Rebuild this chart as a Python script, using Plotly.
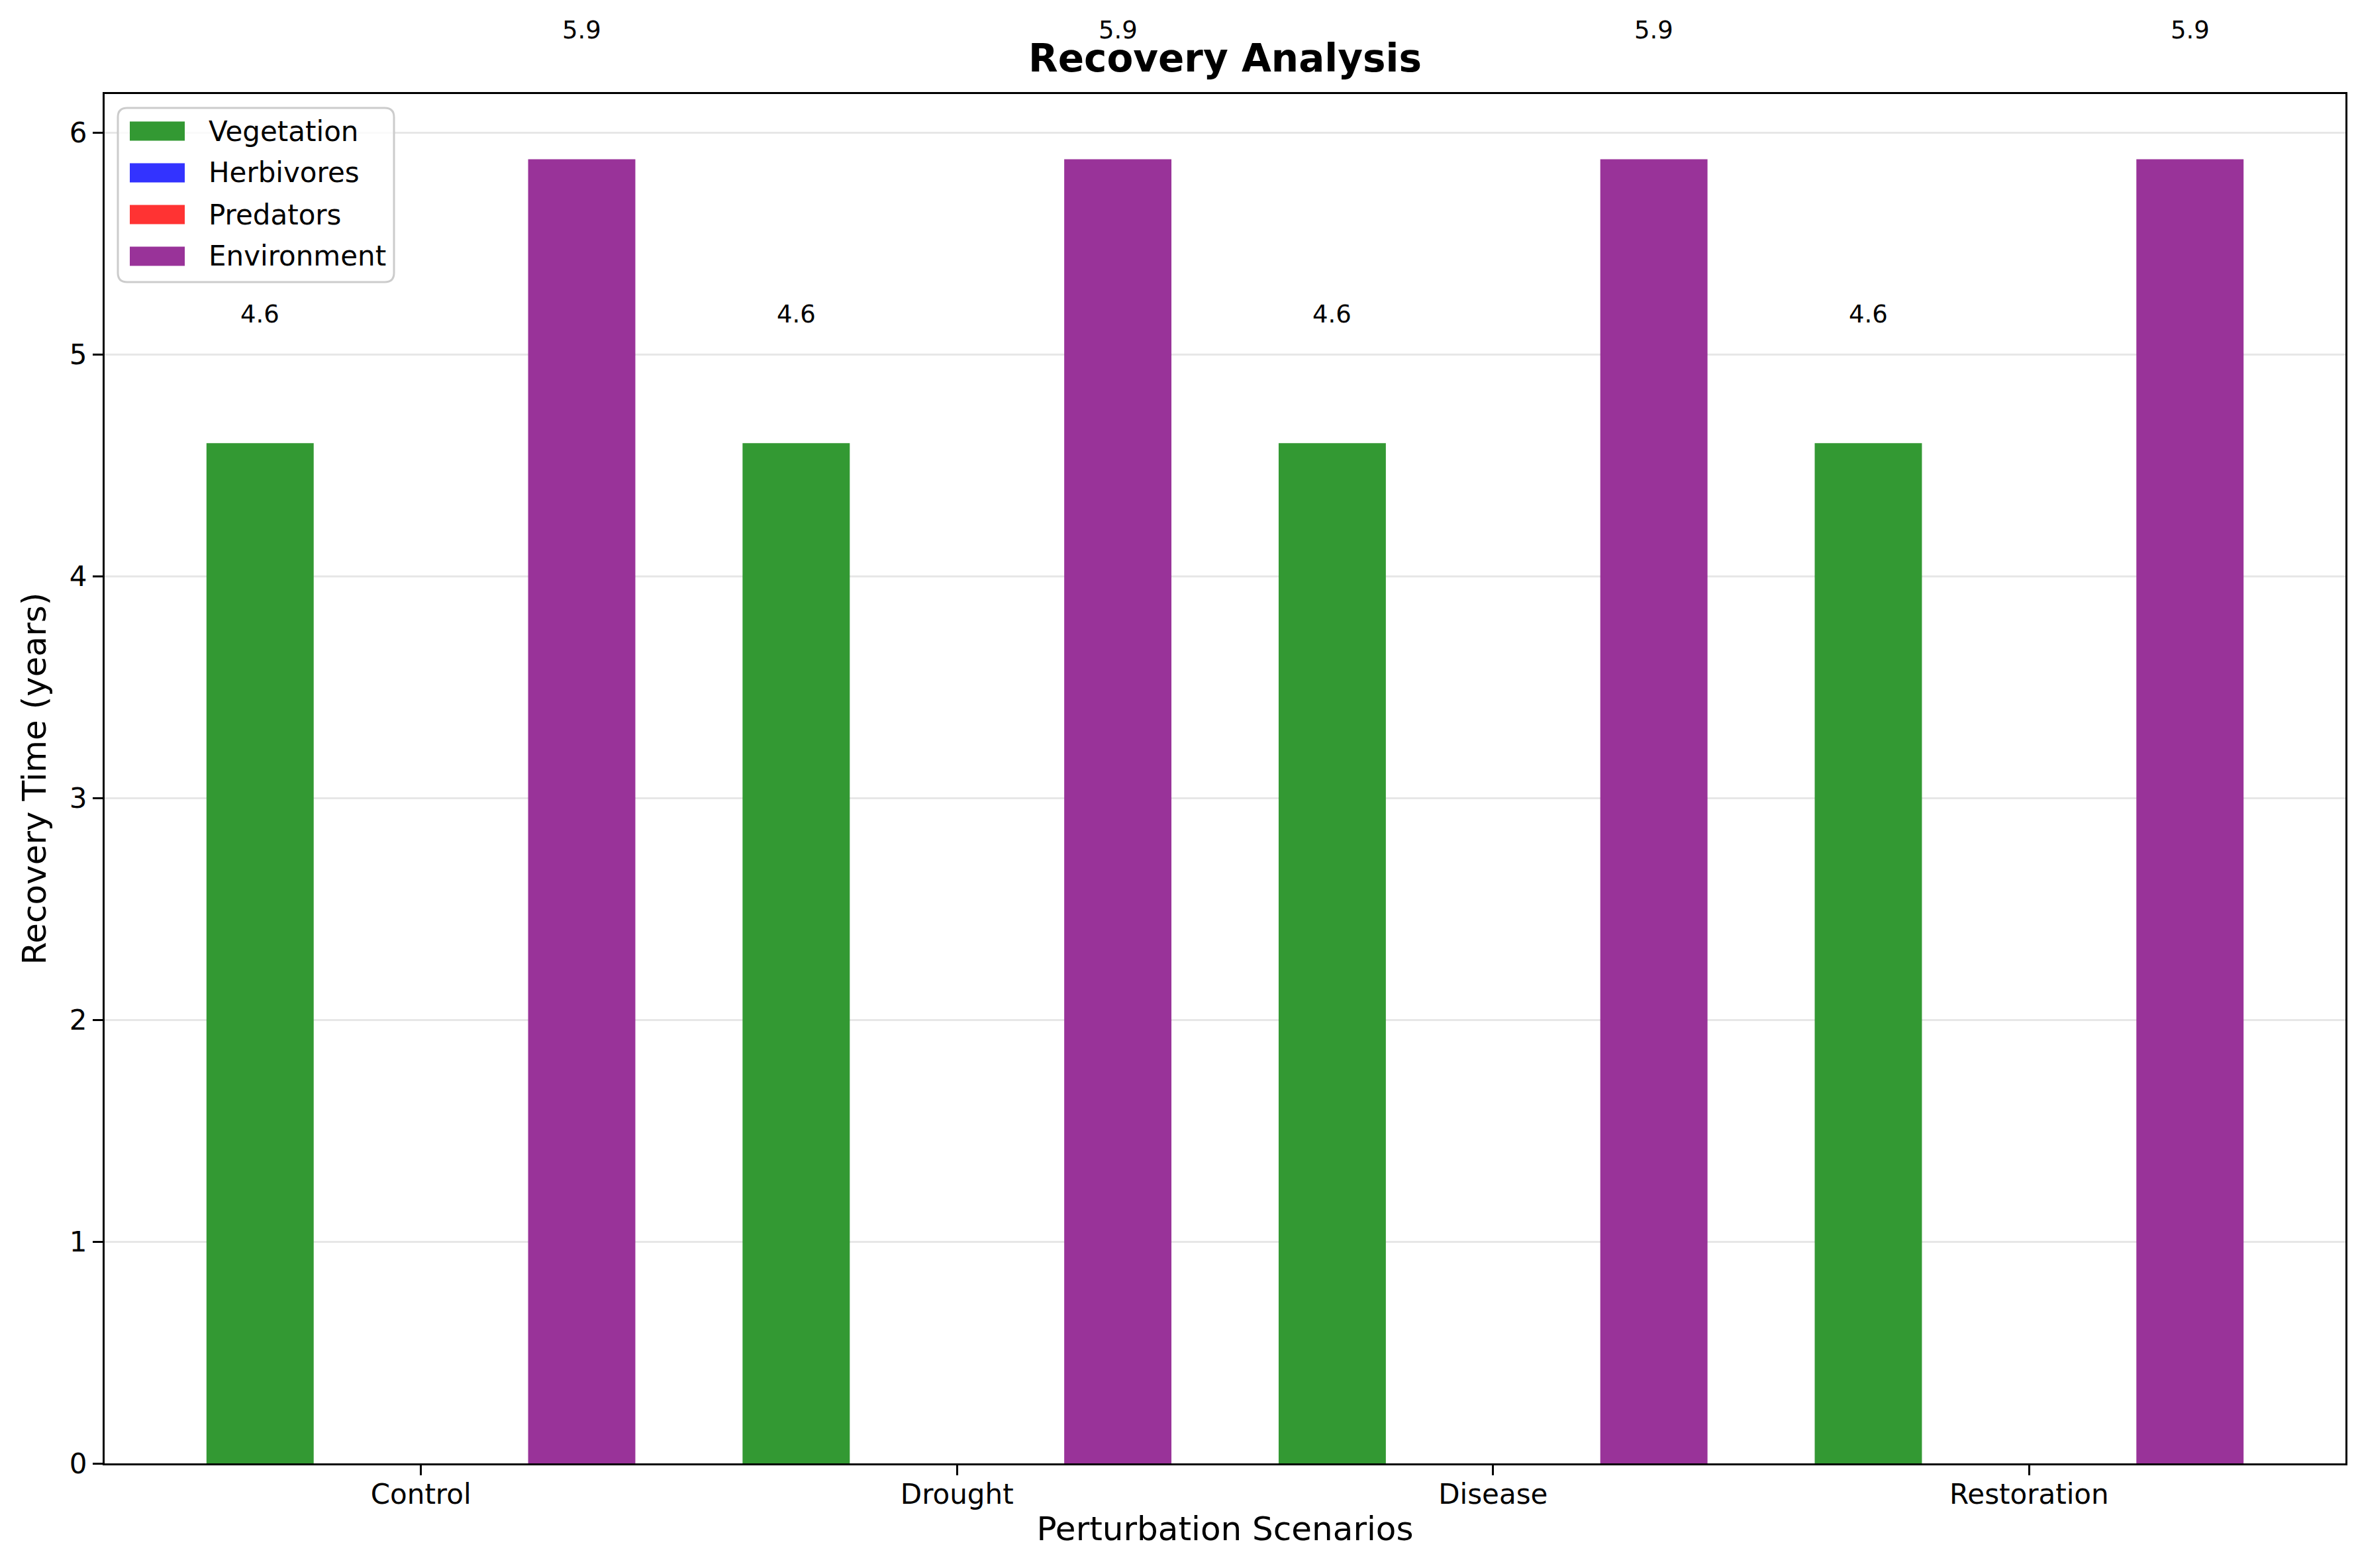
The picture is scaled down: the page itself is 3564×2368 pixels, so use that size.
import plotly.graph_objects as go

scenarios = ["Control", "Drought", "Disease", "Restoration"]
series_names = ["Vegetation", "Herbivores", "Predators", "Environment"]
vegetation = [4.6, 4.6, 4.6, 4.6]
herbivores = [0.0, 0.0, 0.0, 0.0]
predators = [0.0, 0.0, 0.0, 0.0]
environment = [5.88, 5.88, 5.88, 5.88]
colors = ["rgb(51,153,51)", "rgb(51,51,255)", "rgb(255,51,51)", "rgb(153,51,153)"]

series_values = [vegetation, herbivores, predators, environment]

W, H = 3564, 2368
L, R, T, B = 150, 30, 134, 166
PW, PH = W - L - R, H - T - B
FONT = "DejaVu Sans"
YMAX = 6.174


def px(x):
    return (x - L) / PW


def py(y):
    return 1 - (y - T) / PH


fig = go.Figure()
bar_w = 0.2
n = len(series_names)
annotations = []
shapes = []
for k, (name, vals, col) in enumerate(zip(series_names, series_values, colors)):
    off = (k - (n - 1) / 2) * bar_w
    xs = [i + off for i in range(len(scenarios))]
    fig.add_trace(go.Bar(
        x=xs, y=vals, width=bar_w, name=name, showlegend=False,
        marker=dict(color=col, line=dict(width=0)),
    ))
    for x, v in zip(xs, vals):
        if v > 0:
            annotations.append(dict(
                x=x, y=(v + 0.5) / YMAX, xref="x", yref="paper", text=f"{v:.1f}",
                showarrow=False, yanchor="bottom", xanchor="center", yshift=4,
                font=dict(family=FONT, size=37, color="black"),
            ))

# title
annotations.append(dict(
    x=0.5, y=py(80), xref="paper", yref="paper",
    text="<b>Recovery Analysis</b>", showarrow=False,
    xanchor="center", yanchor="middle",
    font=dict(family=FONT, size=58, color="black"),
))

# legend (drawn box, swatches, labels)
lx0, lx1, ly0, ly1 = 170, 587, 155, 418
r = 14
rx, ry = r / PW, r / PH
X0, X1, Y0, Y1 = px(lx0), px(lx1), py(ly0), py(ly1)
path = (f"M{X0+rx},{Y0} L{X1-rx},{Y0} Q{X1},{Y0} {X1},{Y0-ry} "
        f"L{X1},{Y1+ry} Q{X1},{Y1} {X1-rx},{Y1} "
        f"L{X0+rx},{Y1} Q{X0},{Y1} {X0},{Y1+ry} "
        f"L{X0},{Y0-ry} Q{X0},{Y0} {X0+rx},{Y0} Z")
shapes.append(dict(type="path", path=path, xref="paper", yref="paper",
                   fillcolor="rgba(255,255,255,0.8)", line=dict(color="#cccccc", width=3),
                   layer="above"))
row0, row_gap = 190, 63
for k, (name, col) in enumerate(zip(series_names, colors)):
    cy = row0 + k * row_gap
    shapes.append(dict(type="rect", xref="paper", yref="paper",
                       x0=px(188), x1=px(271), y0=py(cy - 14.5), y1=py(cy + 14.5),
                       fillcolor=col, line=dict(width=0), layer="above"))
    annotations.append(dict(
        x=px(305), y=py(cy), xref="paper", yref="paper", text=name,
        showarrow=False, xanchor="left", yanchor="middle",
        font=dict(family=FONT, size=42, color="black"),
    ))

fig.update_layout(
    width=W, height=H,
    margin=dict(l=L, r=R, t=T, b=B, pad=0),
    paper_bgcolor="white", plot_bgcolor="white",
    barmode="overlay",
    showlegend=False,
    annotations=annotations,
    shapes=shapes,
    font=dict(family=FONT, color="black"),
)

fig.update_xaxes(
    range=[-0.59, 3.59],
    tickmode="array", tickvals=list(range(len(scenarios))), ticktext=scenarios,
    showgrid=False, zeroline=False,
    showline=True, linecolor="black", linewidth=3.3, mirror=True,
    ticks="outside", ticklen=15, tickwidth=3.3, tickcolor="black",
    ticklabelstandoff=-8,
    tickfont=dict(family=FONT, size=42, color="black"),
    title=dict(text="Perturbation Scenarios", font=dict(family=FONT, size=50, color="black"), standoff=12),
)
fig.update_yaxes(
    range=[0, YMAX],
    tickmode="linear", tick0=0, dtick=1,
    showgrid=True, gridcolor="rgba(176,176,176,0.3)", gridwidth=3.3,
    zeroline=False,
    showline=True, linecolor="black", linewidth=3.3, mirror=True,
    ticks="outside", ticklen=15, tickwidth=3.3, tickcolor="black",
    tickfont=dict(family=FONT, size=42, color="black"),
    title=dict(text="Recovery Time (years)", font=dict(family=FONT, size=50, color="black"), standoff=20),
)

fig.write_html("out.html")
